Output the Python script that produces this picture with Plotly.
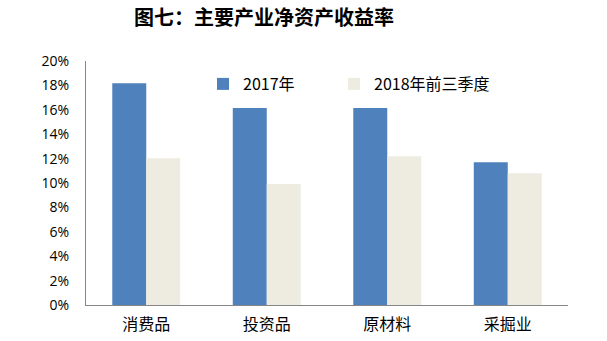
import plotly.graph_objects as go

categories = ["消费品", "投资品", "原材料", "采掘业"]
roe_2017 = [0.1817, 0.1615, 0.1615, 0.117]
roe_2018q3 = [0.1202, 0.0992, 0.122, 0.108]
series_names = ["2017年", "2018年前三季度"]
tick_vals = [0.0, 0.02, 0.04, 0.06, 0.08, 0.10, 0.12, 0.14, 0.16, 0.18, 0.20]

BLUE = "#4F81BD"
BEIGE = "#EEECE1"
AXIS = "#868686"
FONT = "Noto Sans CJK SC"

fig = go.Figure()
fig.add_trace(go.Bar(x=categories, y=roe_2017, name=series_names[0],
                     marker=dict(color=BLUE, line=dict(width=0)),
                     legend="legend"))
fig.add_trace(go.Bar(x=categories, y=roe_2018q3, name=series_names[1],
                     marker=dict(color=BEIGE, line=dict(width=0)),
                     legend="legend2"))

# one legend box per series, so each entry sits at its own spot
legend_common = dict(orientation="h", xanchor="left", yanchor="middle",
                     y=1 - (84 - 61) / 244,
                     font=dict(family=FONT, size=16),
                     bgcolor="rgba(0,0,0,0)")

fig.update_layout(
    width=607, height=341,
    margin=dict(l=86, r=39, t=61, b=36),
    paper_bgcolor="white", plot_bgcolor="white",
    barmode="group", bargap=0.436, bargroupgap=0,
    font=dict(family=FONT, size=14, color="#000000"),
    title=dict(text="<b>图七：主要产业净资产收益率</b>",
               font=dict(family=FONT, size=20, color="#000000"),
               x=264 / 607, xanchor="center", y=1 - 18 / 341, yanchor="middle"),
    showlegend=True,
    legend=dict(x=(203 - 86) / 482, **legend_common),
    legend2=dict(x=(334 - 86) / 482, **legend_common),
    xaxis=dict(showline=True, linecolor=AXIS, linewidth=1, ticks="",
               showgrid=False, tickfont=dict(family=FONT, size=16),
               ticklabelstandoff=5, automargin=False),
    yaxis=dict(range=[0, 0.2], tickvals=tick_vals, tickformat=".0%",
               showline=True, linecolor=AXIS, linewidth=1, ticks="",
               showgrid=False, zeroline=False, automargin=False,
               tickfont=dict(family="Open Sans", size=14), ticklabelstandoff=13),
)

fig.write_html("out.html")
